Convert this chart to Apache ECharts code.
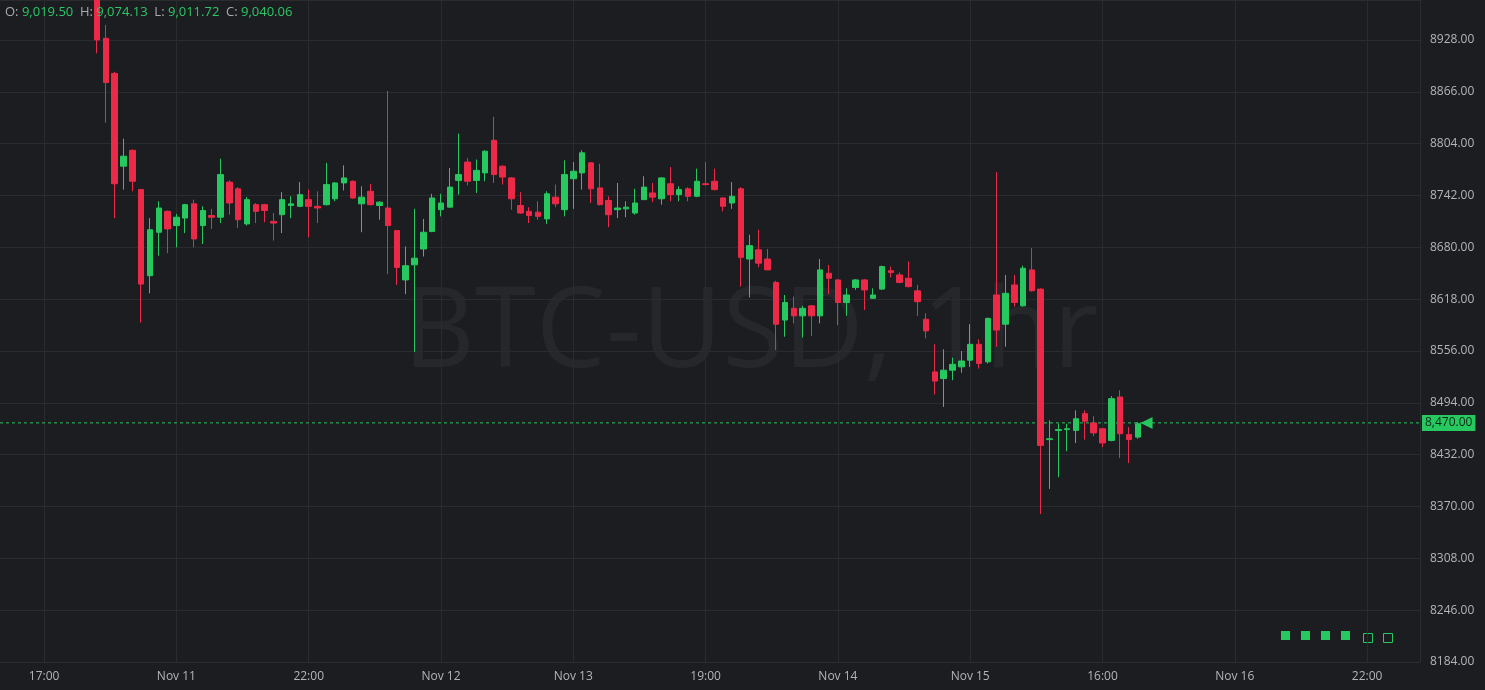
<!DOCTYPE html>
<html><head><meta charset="utf-8">
<script src="https://cdn.jsdelivr.net/npm/echarts@6/dist/echarts.min.js"></script>
<style>html,body{margin:0;padding:0;background:#1c1d20;}#c{width:1485px;height:690px;}</style>
</head><body><div id="c"></div>
<script>
// candle slots: first candle sits at slot 11 on a 162-slot axis
const firstSlot = 11;
const slotCount = 162;
const tickSlots = [5, 20, 35, 50, 65, 80, 95, 110, 125, 140, 155];
const tickLabels = ['17:00','Nov 11','22:00','Nov 12','Nov 13','19:00','Nov 14','Nov 15','16:00','Nov 16','22:00'];
// [open, close, low, high]
const opens  = [8990,8930,8888,8777,8796,8749,8646,8698,8723,8706,8715,8732,8706,8718,8716,8758,8750,8708,8731,8731,
 8711,8719,8730,8729,8737,8729,8731,8738,8757,8759,8732,8747,8730,8727,8700,8641,8659,8678,8699,8725,
 8728,8760,8782,8760,8769,8808,8777,8763,8730,8723,8722,8714,8740,8725,8762,8769,8781,8751,8736,8725,
 8726,8721,8737,8745,8738,8756,8743,8750,8741,8756,8759,8739,8733,8750,8666,8677,8666,8638,8593,8607,
 8598,8610,8598,8649,8641,8614,8632,8641,8619,8630,8652,8647,8643,8628,8594,8531,8523,8533,8537,8545,
 8564,8543,8623,8588,8635,8610,8653,8630,8450,8461,8462,8461,8481,8470,8463,8449,8501,8456,8453];
const closes = [8928,8877,8756,8789,8759,8636,8701,8727,8702,8716,8731,8690,8724,8716,8767,8733,8713,8737,8723,8724,
 8709,8737,8732,8743,8729,8727,8755,8757,8763,8739,8740,8731,8734,8706,8656,8658,8667,8698,8739,8733,
 8752,8767,8759,8772,8795,8767,8764,8738,8721,8718,8717,8744,8732,8767,8771,8793,8750,8731,8719,8727,
 8728,8733,8752,8740,8763,8743,8749,8741,8759,8755,8749,8729,8741,8668,8682,8661,8653,8588,8614,8598,
 8607,8598,8653,8643,8614,8623,8641,8629,8623,8657,8650,8638,8633,8615,8580,8520,8533,8540,8544,8564,
 8541,8595,8581,8625,8614,8655,8628,8443,8451,8462,8463,8475,8472,8458,8446,8499,8457,8450,8469];
const lows   = [8912,8829,8715,8749,8747,8590,8625,8670,8673,8680,8697,8680,8684,8702,8709,8719,8703,8706,8709,8710,
 8688,8697,8715,8728,8692,8709,8730,8735,8748,8738,8698,8730,8713,8648,8635,8624,8555,8669,8698,8717,
 8728,8743,8754,8745,8759,8757,8755,8725,8720,8709,8713,8708,8728,8717,8726,8749,8733,8730,8704,8715,
 8716,8719,8737,8734,8731,8735,8735,8735,8740,8754,8748,8723,8726,8633,8620,8656,8653,8557,8573,8589,
 8572,8574,8589,8624,8587,8598,8629,8605,8619,8629,8644,8637,8632,8598,8571,8504,8489,8521,8530,8537,
 8535,8541,8561,8561,8609,8609,8627,8361,8391,8405,8436,8446,8450,8454,8441,8448,8428,8422,8451];
const highs  = [9000,8946,8890,8810,8797,8750,8715,8735,8724,8720,8732,8737,8729,8726,8786,8760,8752,8740,8733,8732,
 8721,8746,8741,8758,8749,8747,8781,8758,8778,8760,8753,8756,8735,8867,8700,8681,8726,8714,8744,8744,
 8775,8816,8787,8785,8796,8836,8778,8764,8746,8728,8735,8747,8755,8784,8782,8796,8782,8780,8741,8757,
 8735,8750,8765,8757,8764,8776,8753,8752,8774,8782,8774,8740,8758,8752,8695,8701,8678,8640,8623,8621,
 8610,8611,8666,8659,8642,8631,8642,8642,8631,8658,8657,8650,8663,8635,8601,8564,8558,8548,8556,8588,
 8570,8596,8770,8647,8647,8658,8679,8631,8473,8469,8469,8485,8485,8478,8464,8502,8509,8465,8471];
const lastPrice = 8470;
const yTickMin = 8184, yTickStep = 62;

const UP = '#26c85f', DOWN = '#ec2947';
const slots = Array.from({length: slotCount}, (_, i) => String(i));
const candleData = slots.map((_, i) => {
  const k = i - firstSlot;
  if (k < 0 || k >= opens.length) return '-';
  return [opens[k], closes[k], lows[k], highs[k]];
});
const tickMap = {}; tickSlots.forEach((s, i) => tickMap[s] = tickLabels[i]);
const showTick = (idx) => tickMap[idx] !== undefined;
const lastSlot = firstSlot + opens.length - 1;
const priceLine = slots.map(() => lastPrice);

const chart = echarts.init(document.getElementById('c'));
chart.setOption({
  backgroundColor: '#1c1d20',
  animation: false,
  grid: {left: 0, right: 65, top: 0, bottom: 28},
  xAxis: {
    type: 'category', data: slots, boundaryGap: false,
    axisLine: {show: true, lineStyle: {color: '#2c2d31'}},
    axisTick: {show: false},
    axisLabel: {interval: showTick, formatter: (v) => tickMap[v] || '', color: '#b4b5b8', fontSize: 12, fontFamily: 'Open Sans', margin: 9},
    splitLine: {show: true, interval: showTick, lineStyle: {color: '#2a2b2f', width: 1}}
  },
  yAxis: {
    type: 'value', position: 'right', scale: true,
    min: yTickMin, max: 8975.8, interval: yTickStep,
    axisLine: {show: true, lineStyle: {color: '#2c2d31'}},
    axisTick: {show: false},
    axisLabel: {color: '#b4b5b8', fontSize: 12, fontFamily: 'Open Sans', showMaxLabel: false, margin: 10, formatter: (v) => v.toFixed(2)},
    splitLine: {lineStyle: {color: '#2a2b2f', width: 1}}
  },
  graphic: [
    {type: 'text', left: 403, top: 280, z: 0, style: {text: 'BTC-USD, 1hr', fill: '#26272a', font: '111px "Open Sans"'}},
    {type: 'text', left: 5, top: 6, z: 100, style: {
      rich: {l: {fill: '#a9aaad', font: '13px "Open Sans"'}, v: {fill: '#2bc766', font: '13px "Open Sans"'}},
      text: '{l|O:}{v| 9,019.50}  {l|H:}{v| 9,074.13}  {l|L:}{v| 9,011.72}  {l|C:}{v| 9,040.06}'}},
    ...[0,1,2,3,4,5].map(i => ({type: 'rect', left: 1281 + i*20, top: 631, shape: {width: 9, height: 9},
      style: i < 4 ? {fill: '#26c85f'} : {fill: 'none', stroke: '#26c85f', lineWidth: 1}}))
  ],
  series: [{
    type: 'line', data: priceLine, symbol: 'none', silent: true, z: 1,
    lineStyle: {color: '#26c85f', type: [3, 3], width: 1},
    endLabel: {show: true, distance: 2, formatter: () => lastPrice.toLocaleString('en-US', {minimumFractionDigits: 2}),
      backgroundColor: '#26c85f', color: '#0d2a16', fontSize: 12, fontFamily: 'Open Sans', padding: [2, 3]}
  }, {
    type: 'candlestick', data: candleData, barWidth: 6, z: 3,
    itemStyle: {color: UP, color0: DOWN, borderColor: UP, borderColor0: DOWN, borderWidth: 1},
    markPoint: {
      symbol: 'triangle', symbolSize: [12, 12], symbolRotate: 90, silent: true,
      itemStyle: {color: '#26c85f'}, label: {show: false},
      data: [{coord: [String(lastSlot + 1), lastPrice]}]
    }
  }]
});
</script></body></html>
